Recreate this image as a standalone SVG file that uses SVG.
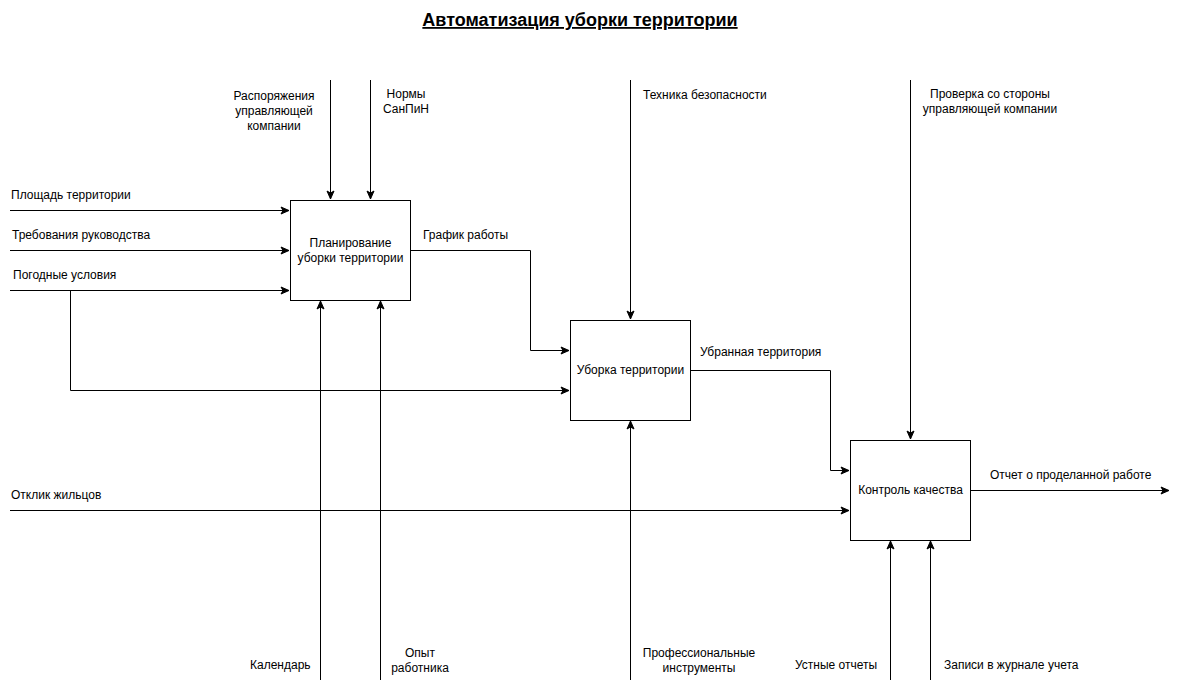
<svg xmlns="http://www.w3.org/2000/svg" width="1179" height="689" viewBox="0 0 1179 689">
<style>
text{font-family:"Liberation Sans",Arial,sans-serif;font-size:12px;fill:#000}
.t{font-size:18px;font-weight:bold;text-decoration:underline}
.c{text-anchor:middle}
.box{fill:#fff;stroke:#000;stroke-width:1}
.ln{fill:none;stroke:#000;stroke-width:1;marker-end:url(#a)}
</style>
<defs>
<marker id="a" viewBox="0 0 10 10" refX="9" refY="5" markerWidth="10" markerHeight="10" markerUnits="userSpaceOnUse" orient="auto">
<path d="M1,1.5 L9,5 L1,8.5 L3,5 Z" fill="#000" stroke="#000" stroke-width="1"/>
</marker>
</defs>
<rect width="1179" height="689" fill="#fff"/>
<text class="t c" x="580" y="26">Автоматизация уборки территории</text>
<g id="connectors">
<path class="ln" d="M10,210.5 H289"/>
<path class="ln" d="M10,250.5 H289"/>
<path class="ln" d="M10,290.5 H289"/>
<path class="ln" d="M70.5,290.5 V390.5 H569"/>
<path class="ln" d="M330.5,80 V199"/>
<path class="ln" d="M370.5,80 V199"/>
<path class="ln" d="M320.5,680 V301"/>
<path class="ln" d="M380.5,680 V301"/>
<path class="ln" d="M410,250.5 H530.5 V350.5 H569"/>
<path class="ln" d="M630.5,80 V319"/>
<path class="ln" d="M630.5,680 V421"/>
<path class="ln" d="M690,370.5 H830.5 V470.5 H849"/>
<path class="ln" d="M10,510.5 H849"/>
<path class="ln" d="M910.5,80 V439"/>
<path class="ln" d="M890.5,680 V541"/>
<path class="ln" d="M930.5,680 V541"/>
<path class="ln" d="M970,490.5 H1169"/>
</g>
<g id="node-plan">
<rect class="box" x="290.5" y="200.5" width="120" height="100"/>
<text class="c" x="350.5" y="247">Планирование</text>
<text class="c" x="350.5" y="262">уборки территории</text>
</g>
<g id="node-clean">
<rect class="box" x="570.5" y="320.5" width="120" height="100"/>
<text class="c" x="630.5" y="374">Уборка территории</text>
</g>
<g id="node-control">
<rect class="box" x="850.5" y="440.5" width="120" height="100"/>
<text class="c" x="910.5" y="494">Контроль качества</text>
</g>
<g id="labels">
<text x="11" y="199">Площадь территории</text>
<text x="12" y="239">Требования руководства</text>
<text x="13" y="279">Погодные условия</text>
<text class="c" x="274" y="100">Распоряжения</text>
<text class="c" x="274" y="115">управляющей</text>
<text class="c" x="274" y="130">компании</text>
<text class="c" x="406" y="98">Нормы</text>
<text class="c" x="406" y="113">СанПиН</text>
<text x="423" y="239">График работы</text>
<text x="643" y="99">Техника безопасности</text>
<text x="700" y="356">Убранная территория</text>
<text class="c" x="990" y="98">Проверка со стороны</text>
<text class="c" x="990" y="113">управляющей компании</text>
<text x="11" y="499">Отклик жильцов</text>
<text x="990" y="479">Отчет о проделанной работе</text>
<text x="250" y="669">Календарь</text>
<text class="c" x="420" y="657">Опыт</text>
<text class="c" x="420" y="672">работника</text>
<text class="c" x="699" y="657">Профессиональные</text>
<text class="c" x="699" y="672">инструменты</text>
<text x="795" y="669">Устные отчеты</text>
<text x="944" y="669">Записи в журнале учета</text>
</g>
</svg>
